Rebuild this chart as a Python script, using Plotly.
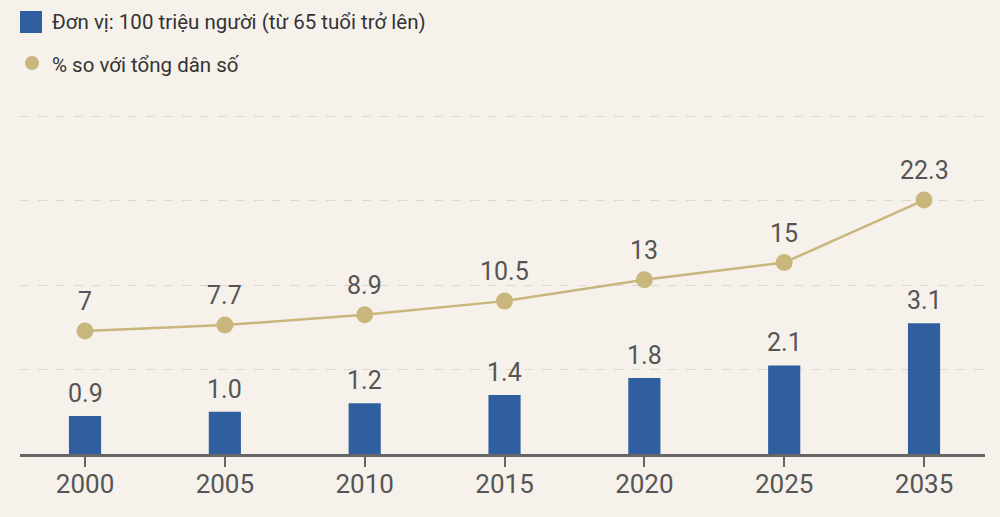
import plotly.graph_objects as go

years = ["2000", "2005", "2010", "2015", "2020", "2025", "2035"]
elderly_100m = [0.9, 1.0, 1.2, 1.4, 1.8, 2.1, 3.1]
pct_of_total = [7, 7.7, 8.9, 10.5, 13, 15, 22.3]
bar_labels = ["0.9", "1.0", "1.2", "1.4", "1.8", "2.1", "3.1"]
line_labels = ["7", "7.7", "8.9", "10.5", "13", "15", "22.3"]
legend_bar = "Đơn vị: 100 triệu người (từ 65 tuổi trở lên)"
legend_line = "% so với tổng dân số"

W, H = 1000, 517
ML, MR, MT, MB = 20, 15, 100, 63
PW, PH = W - ML - MR, H - MT - MB

def px(xp):
    return (xp - ML) / PW

def py(yp):
    return (H - MB - yp) / PH

BLUE = "#2f5f9f"
GOLD = "#c8b67c"
TXT = "#555555"
BG = "#f6f2eb"

fig = go.Figure()
fig.add_trace(go.Bar(
    x=years, y=elderly_100m, marker=dict(color=BLUE, line=dict(width=0)),
    width=0.23, showlegend=False, name=legend_bar,
))
fig.add_trace(go.Scatter(
    x=years, y=pct_of_total, yaxis="y2", mode="lines+markers",
    line=dict(color=GOLD, width=2.5),
    marker=dict(color=GOLD, size=17),
    cliponaxis=False, showlegend=False, name=legend_line,
))
for i, (v, lab) in enumerate(zip(elderly_100m, bar_labels)):
    fig.add_annotation(x=i, y=v, xref="x", yref="y", text=lab, showarrow=False,
                       yanchor="bottom", yshift=6,
                       font=dict(family="Roboto", size=25, color=TXT))
for i, (v, lab) in enumerate(zip(pct_of_total, line_labels)):
    fig.add_annotation(x=i, y=v, xref="x", yref="y2", text=lab, showarrow=False,
                       yanchor="bottom", yshift=13,
                       font=dict(family="Roboto", size=25, color=TXT))

# manual legend
fig.add_shape(type="rect", xref="paper", yref="paper",
              x0=px(20), x1=px(42), y0=py(33), y1=py(11),
              fillcolor=BLUE, line=dict(width=0))
fig.add_shape(type="circle", xref="paper", yref="paper",
              x0=px(25), x1=px(39), y0=py(70), y1=py(56),
              fillcolor=GOLD, line=dict(width=0))
fig.add_annotation(xref="paper", yref="paper", x=px(50), y=py(22), text=legend_bar,
                   showarrow=False, xanchor="left", yanchor="middle",
                   font=dict(family="Roboto", size=20.5, color="#333333"))
fig.add_annotation(xref="paper", yref="paper", x=px(50), y=py(65), text=legend_line,
                   showarrow=False, xanchor="left", yanchor="middle",
                   font=dict(family="Roboto", size=20.5, color="#333333"))

fig.update_layout(
    width=W, height=H,
    margin=dict(l=ML, r=MR, t=MT, b=MB),
    paper_bgcolor=BG, plot_bgcolor=BG,
    xaxis=dict(type="category", range=[-0.465, 6.436],
               showline=True, linecolor="#666666", linewidth=3,
               ticks="outside", ticklen=10, tickwidth=2, tickcolor="#666666",
               ticklabelstandoff=-5,
               tickfont=dict(family="Roboto", size=26, color=TXT),
               showgrid=False, zeroline=False),
    yaxis=dict(range=[0, PH / 42.2], dtick=2, showgrid=True,
               gridcolor="#dcd8d0", griddash="dash", gridwidth=1,
               showticklabels=False, zeroline=False, showline=False),
    yaxis2=dict(overlaying="y", range=[-63 / 8.56, (H - MB - 63 - MT) / 8.56],
                showgrid=False, showticklabels=False, zeroline=False, showline=False),
    bargap=0.5,
)
fig.write_html(
    "out.html",
    config={"displayModeBar": False},
    post_script=("document.body.style.margin='0';"
                 "document.body.style.background='" + BG + "';"
                 "document.documentElement.style.overflow='hidden';"),
)
